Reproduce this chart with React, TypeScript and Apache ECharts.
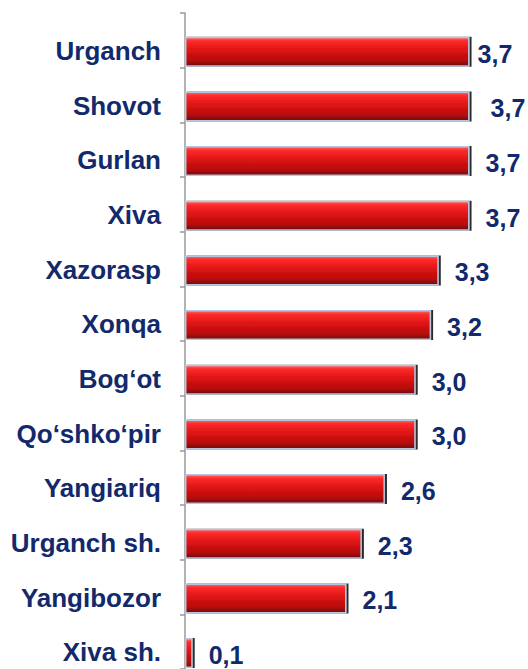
import React, { useEffect, useRef } from "react";
import * as echarts from "echarts";

const categories = [
  "Urganch",
  "Shovot",
  "Gurlan",
  "Xiva",
  "Xazorasp",
  "Xonqa",
  "Bog‘ot",
  "Qo‘shko‘pir",
  "Yangiariq",
  "Urganch sh.",
  "Yangibozor",
  "Xiva sh.",
];
const values = [3.7, 3.7, 3.7, 3.7, 3.3, 3.2, 3.0, 3.0, 2.6, 2.3, 2.1, 0.1];
// horizontal nudge of each value label (px, relative to default distance)
const labelNudgeX = [-8, 5, 0, 0, 0, 0, 0, 0, 0, 0, 0, 0];

const TEXT = "#12296B";
const FONT = "'Liberation Sans', Arial, sans-serif";

export default function App() {
  const ref = useRef<HTMLDivElement>(null);
  useEffect(() => {
    if (!ref.current) return;
    const chart = echarts.init(ref.current, null, { renderer: "svg" });
    const barGradient = new echarts.graphic.LinearGradient(0, 0, 0, 1, [
      { offset: 0, color: "#ff6a6a" },
      { offset: 0.12, color: "#ff2b2b" },
      { offset: 0.45, color: "#dc1414" },
      { offset: 0.8, color: "#b80c0c" },
      { offset: 1, color: "#6e0606" },
    ]);
    chart.setOption({
      animation: false,
      backgroundColor: "#ffffff",
      grid: { left: 185, right: 35.4, top: 13, height: 656 },
      xAxis: {
        type: "value",
        min: 0,
        max: 4,
        show: false,
      },
      yAxis: {
        type: "category",
        inverse: true,
        data: categories,
        axisLine: { show: true, lineStyle: { color: "#9a9a9a", width: 1.5 } },
        axisTick: { show: true, length: 5, lineStyle: { color: "#9a9a9a", width: 1.5 } },
        axisLabel: {
          color: TEXT,
          fontFamily: FONT,
          fontWeight: "bold",
          fontSize: 26,
          margin: 24,
          verticalAlign: "top",
          lineHeight: 21,
        },
        splitLine: { show: false },
      },
      series: [
        {
          type: "bar",
          name: "spacer",
          data: values.map(() => null),
          barWidth: 30,
          barGap: "-24%",
          silent: true,
        },
        {
          type: "bar",
          name: "values",
          barWidth: 30,
          data: values.map((v, i) => ({
            value: v,
            label: { offset: [labelNudgeX[i], 2] },
          })),
          itemStyle: {
            color: barGradient,
            borderColor: "#b9c5da",
            borderWidth: 1.5,
            shadowColor: "#2a2a2a",
            shadowBlur: 0,
            shadowOffsetX: 2,
            shadowOffsetY: 0,
          },
          label: {
            show: true,
            position: "right",
            distance: 16,
            color: TEXT,
            fontFamily: FONT,
            fontWeight: "bold",
            fontSize: 25,
            formatter: (p: any) => Number(p.value).toFixed(1).replace(".", ","),
          },
        },
      ],
    });
    return () => chart.dispose();
  }, []);
  return (
    <div
      ref={ref}
      style={{ width: 528, height: 669, position: "absolute", left: 0, top: 0 }}
    />
  );
}
